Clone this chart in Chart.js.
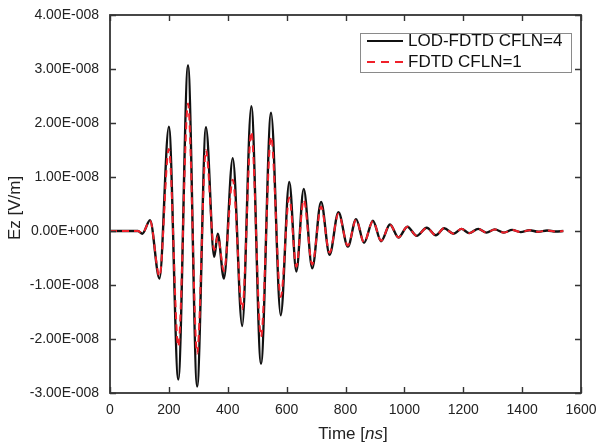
<!DOCTYPE html>
<html>
<head>
<meta charset="utf-8">
<script src="https://cdn.jsdelivr.net/npm/chart.js@4.4.1/dist/chart.umd.min.js"></script>
<style>
    html, body { margin: 0; padding: 0; background: #fff; }
    #wrap { width: 597px; height: 444px; }
</style>
</head>
<body>
<div id="wrap"><canvas id="ez-chart" width="597" height="444"></canvas></div>
<script>
// values, field in units of 1e-8 V/m
const UNIT = 1e-8;
const timeNs = [0, 95, 110, 136, 168, 200, 232, 265, 296, 326, 354, 366, 387, 417, 449, 480, 513, 547, 580, 609,
    633, 658, 687, 717, 746, 776, 808, 836, 863, 893, 921, 951, 980, 1010, 1042, 1076, 1107, 1135, 1167, 1194,
    1220, 1251, 1279, 1307, 1338, 1366, 1395, 1425, 1455, 1485, 1515, 1540];
const lodFdtd = [0, 0, -0.05, 0.20, -0.88, 1.93, -2.75, 3.07, -2.88, 1.92, -0.48, -0.05, -0.88, 1.35, -1.76, 2.31, -2.46, 2.19, -1.56, 0.91,
    -0.75, 0.78, -0.69, 0.54, -0.44, 0.35, -0.29, 0.22, -0.22, 0.19, -0.19, 0.12, -0.12, 0.08, -0.09, 0.06, -0.08, 0.05, -0.05, 0.04,
    -0.04, 0.04, -0.03, 0.03, -0.03, 0.02, -0.02, 0.015, -0.015, 0.01, -0.01, 0];
const fdtd = [0, 0, -0.04, 0.19, -0.84, 1.52, -2.14, 2.36, -2.27, 1.50, -0.35, -0.10, -0.74, 0.95, -1.45, 1.84, -1.96, 1.75, -1.22, 0.62,
    -0.66, 0.58, -0.62, 0.45, -0.40, 0.32, -0.27, 0.21, -0.21, 0.18, -0.18, 0.12, -0.12, 0.08, -0.09, 0.06, -0.08, 0.05, -0.05, 0.04,
    -0.04, 0.04, -0.03, 0.03, -0.03, 0.02, -0.02, 0.015, -0.015, 0.01, -0.01, 0];

const seriesNames = ["LOD-FDTD CFLN=4", "FDTD CFLN=1"];
const xTicks = [0, 200, 400, 600, 800, 1000, 1200, 1400, 1600];
const yTicks = [-3e-8, -2e-8, -1e-8, 0, 1e-8, 2e-8, 3e-8, 4e-8];
const yTickLabels = ["-3.00E-008", "-2.00E-008", "-1.00E-008", "0.00E+000", "1.00E-008", "2.00E-008", "3.00E-008", "4.00E-008"];

const FONT = "'Liberation Sans', Arial, sans-serif";
const RED = "#f0202a";

function toPoints(values) {
    return timeNs.map((t, i) => ({x: t, y: values[i] * UNIT}));
}

// frame with inward ticks on all four sides
const framePlugin = {
    id: "frame",
    afterDatasetsDraw(chart) {
        const ctx = chart.ctx;
        const a = chart.chartArea;
        const xs = chart.scales.x, ys = chart.scales.y;
        ctx.save();
        ctx.strokeStyle = "#333";
        ctx.lineWidth = 1.8;
        ctx.strokeRect(a.left, a.top, a.right - a.left, a.bottom - a.top);
        ctx.lineWidth = 1.4;
        ctx.beginPath();
        xTicks.forEach(v => {
            const px = Math.round(xs.getPixelForValue(v)) + 0.5;
            ctx.moveTo(px, a.bottom); ctx.lineTo(px, a.bottom - 6);
            ctx.moveTo(px, a.top); ctx.lineTo(px, a.top + 6);
        });
        yTicks.forEach(v => {
            const py = Math.round(ys.getPixelForValue(v)) + 0.5;
            ctx.moveTo(a.left, py); ctx.lineTo(a.left + 6, py);
            ctx.moveTo(a.right, py); ctx.lineTo(a.right - 6, py);
        });
        ctx.stroke();
        ctx.restore();
    }
};

// legend box in the top right, axis titles
const labelPlugin = {
    id: "labels",
    afterDraw(chart) {
        const ctx = chart.ctx;
        ctx.save();
        // legend
        ctx.strokeStyle = "#8a8a8a";
        ctx.lineWidth = 1;
        ctx.strokeRect(360.5, 33.5, 211, 39);
        ctx.font = "17px " + FONT;
        ctx.fillStyle = "#111";
        ctx.textBaseline = "middle";
        ctx.textAlign = "left";
        ctx.lineWidth = 2;
        ctx.strokeStyle = "#111";
        ctx.beginPath(); ctx.moveTo(367, 41); ctx.lineTo(403, 41); ctx.stroke();
        ctx.fillText(seriesNames[0], 408, 41);
        ctx.strokeStyle = RED;
        ctx.setLineDash([8, 6]);
        ctx.beginPath(); ctx.moveTo(367, 62); ctx.lineTo(405, 62); ctx.stroke();
        ctx.setLineDash([]);
        ctx.fillText(seriesNames[1], 408, 62);

        // x title: Time [ns] with italic ns
        const parts = [["Time [", ""], ["ns", "italic "], ["]", ""]];
        let total = 0;
        parts.forEach(p => { ctx.font = p[1] + "17px " + FONT; total += ctx.measureText(p[0]).width; });
        let x = 353 - total / 2;
        ctx.fillStyle = "#222";
        parts.forEach(p => {
            ctx.font = p[1] + "17px " + FONT;
            ctx.fillText(p[0], x, 434);
            x += ctx.measureText(p[0]).width;
        });

        // y title
        ctx.translate(15, 208);
        ctx.rotate(-Math.PI / 2);
        ctx.textAlign = "center";
        ctx.font = "17px " + FONT;
        ctx.fillText("Ez [V/m]", 0, 0);
        ctx.restore();
    }
};

const ezChart = new Chart(document.getElementById("ez-chart"), {
    type: "line",
    data: {
        datasets: [{
            label: seriesNames[1],
            data: toPoints(fdtd),
            borderColor: RED,
            borderWidth: 2,
            borderDash: [7, 5],
            pointRadius: 0,
            cubicInterpolationMode: "monotone",
            fill: false,
            order: 0
        }, {
            label: seriesNames[0],
            data: toPoints(lodFdtd),
            borderColor: "#111",
            borderWidth: 2.4,
            pointRadius: 0,
            cubicInterpolationMode: "monotone",
            fill: false,
            order: 1
        }]
    },
    options: {
        responsive: false,
        animation: false,
        devicePixelRatio: 1,
        layout: {padding: {top: 15, right: 16, left: 0, bottom: 0}},
        plugins: {legend: {display: false}, tooltip: {enabled: false}},
        scales: {
            x: {
                type: "linear",
                min: 0,
                max: 1600,
                afterBuildTicks: (scale) => { scale.ticks = xTicks.map(v => ({value: v})); },
                afterFit: (scale) => {
                    scale.height = 51;
                    scale.paddingLeft = 0;
                    scale.paddingRight = 0;
                },
                grid: {display: false, drawTicks: false},
                border: {display: false},
                ticks: {
                    padding: 9,
                    color: "#222",
                    font: {family: FONT, size: 14},
                    maxRotation: 0,
                    callback: (value) => String(value)
                }
            },
            y: {
                type: "linear",
                min: -3e-8,
                max: 4e-8,
                afterBuildTicks: (scale) => { scale.ticks = yTicks.map(v => ({value: v})); },
                afterFit: (scale) => {
                    scale.width = 110;
                    scale.paddingTop = 0;
                    scale.paddingBottom = 0;
                },
                grid: {display: false, drawTicks: false},
                border: {display: false},
                ticks: {
                    padding: 11,
                    color: "#222",
                    font: {family: FONT, size: 14},
                    callback: (value, index) => yTickLabels[index]
                }
            }
        }
    },
    plugins: [framePlugin, labelPlugin]
});
</script>
</body>
</html>
